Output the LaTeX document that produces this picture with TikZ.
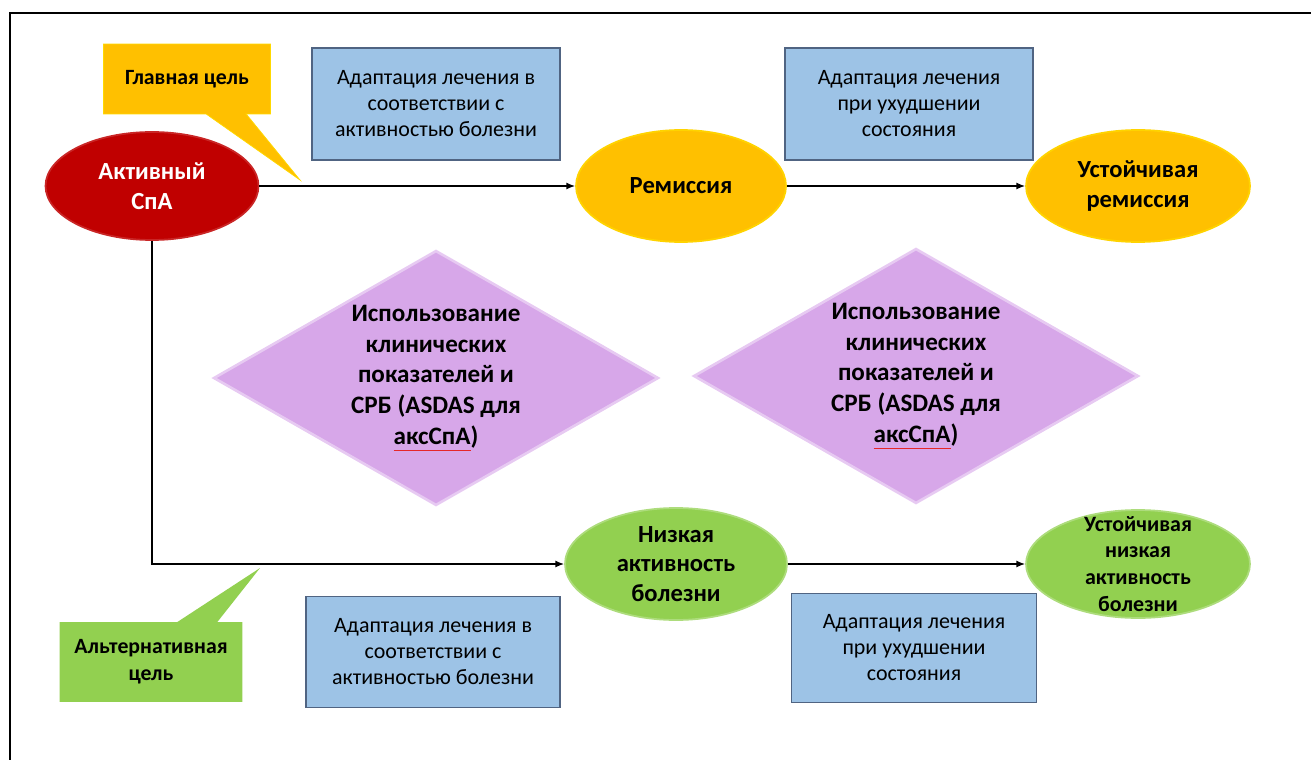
\documentclass[tikz,border=0pt]{standalone}
\usepackage{fontspec}
\setmainfont{Carlito}
\usepackage{tikz}
\usetikzlibrary{arrows.meta}
\usetikzlibrary{shapes.geometric}
\usetikzlibrary{shapes.callouts}

\definecolor{spared}{RGB}{192,0,0}
\definecolor{remorange}{RGB}{255,192,0}
\definecolor{lowgreen}{RGB}{146,208,80}
\definecolor{adaptblue}{RGB}{157,195,230}
\definecolor{adaptedge}{RGB}{80,100,130}
\definecolor{critlilac}{RGB}{215,167,233}
\definecolor{spellred}{RGB}{230,40,40}

\newcommand{\spellmark}[1]{\setbox0\hbox{#1}\rlap{\color{spellred}\rule[-3.6pt]{\wd0}{0.8pt}}\box0}

\begin{document}
\begin{tikzpicture}[x=0.02cm, y=-0.02cm,
    oval/.style={ellipse, inner sep=0pt, align=center, font=\fontsize{14}{17}\selectfont\bfseries},
    adaptbox/.style={rectangle, fill=adaptblue, draw=adaptedge, line width=0.8pt, align=center,
        font=\fontsize{12.5}{14.8}\selectfont},
    critbox/.style={diamond, aspect=1.75, inner sep=0pt, fill=critlilac, draw=critlilac!60!white,
        line width=1.5pt, align=center, minimum width=8.9cm, minimum height=5.1cm,
        font=\fontsize{14.3}{17.6}\selectfont\bfseries},
    goalnote/.style={rectangle callout, callout pointer width=0.8cm, align=center,
        font=\fontsize{12.4}{15.3}\selectfont\bfseries},
    link/.style={line width=0.85pt, -{Latex[length=5pt,width=4pt]}}]
    \useasboundingbox (0,0) rectangle (1311,760);
    \draw[line width=1.1pt] (10,760) -- (10,13) -- (1311,13);

    % upper row
    \node[oval, fill=spared, draw=spared!85!white, line width=1pt, text=white,
        minimum width=4.26cm, minimum height=2.16cm] (active) at (152,186) {Активный\\СпА};
    \node[oval, fill=remorange, draw=remorange!70!yellow, line width=1pt,
        minimum width=4.2cm, minimum height=2.24cm] (remission) at (681,186) {Ремиссия};
    \node[oval, fill=remorange, draw=remorange!70!yellow, line width=1pt,
        minimum width=4.48cm, minimum height=2.24cm] (stablerem) at (1138,186) {Устойчивая\\ремиссия};
    \node[adaptbox, minimum width=4.96cm, minimum height=2.24cm] (adapt1) at (436,104)
        {Адаптация лечения в\\соответствии с\\активностью болезни};
    \node[adaptbox, minimum width=4.96cm, minimum height=2.24cm] (adapt2) at (909,104)
        {Адаптация лечения\\при ухудшении\\состояния};

    % lower row
    \node[oval, fill=lowgreen, draw=lowgreen!75!white, line width=1pt, inner ysep=-10pt,
        minimum width=4.44cm, minimum height=2.24cm] (low) at (676,564) {Низкая\\активность\\болезни};
    \node[oval, fill=lowgreen, draw=lowgreen!75!white, line width=1pt, inner ysep=-22pt,
        font=\fontsize{12.5}{15.3}\selectfont\bfseries,
        minimum width=4.48cm, minimum height=2.16cm] (stablelow) at (1138,564)
        {Устойчивая\\низкая\\активность\\болезни};
    \node[adaptbox, minimum width=5.08cm, minimum height=2.22cm] (adapt3) at (433,652)
        {Адаптация лечения в\\соответствии с\\активностью болезни};
    \node[adaptbox, minimum width=4.9cm, minimum height=2.18cm] (adapt4) at (914,648)
        {Адаптация лечения\\при ухудшении\\состояния};

    % criteria
    \node[critbox] (crit1) at (436,378)
        {Использование\\клинических\\показателей и\\СРБ (ASDAS для\\\spellmark{аксСпА})};
    \node[critbox] (crit2) at (916,376)
        {Использование\\клинических\\показателей и\\СРБ (ASDAS для\\\spellmark{аксСпА})};

    % goals
    \coordinate (maintip) at (300,180);
    \coordinate (alttip) at (260,568);
    \node[goalnote, fill=remorange, draw=remorange!60!yellow, callout absolute pointer={(maintip)},
        minimum width=3.34cm, minimum height=1.4cm] (maingoal) at (187,79) {Главная цель};
    \node[goalnote, fill=lowgreen, callout absolute pointer={(alttip)},
        minimum width=3.66cm, minimum height=1.6cm] (altgoal) at (151,662) {Альтернативная\\цель};

    \draw[link] (active) -- (remission);
    \draw[link] (remission) -- (stablerem);
    \draw[link] (active.south) |- (low.west);
    \draw[link] (low) -- (stablelow);
\end{tikzpicture}
\end{document}
